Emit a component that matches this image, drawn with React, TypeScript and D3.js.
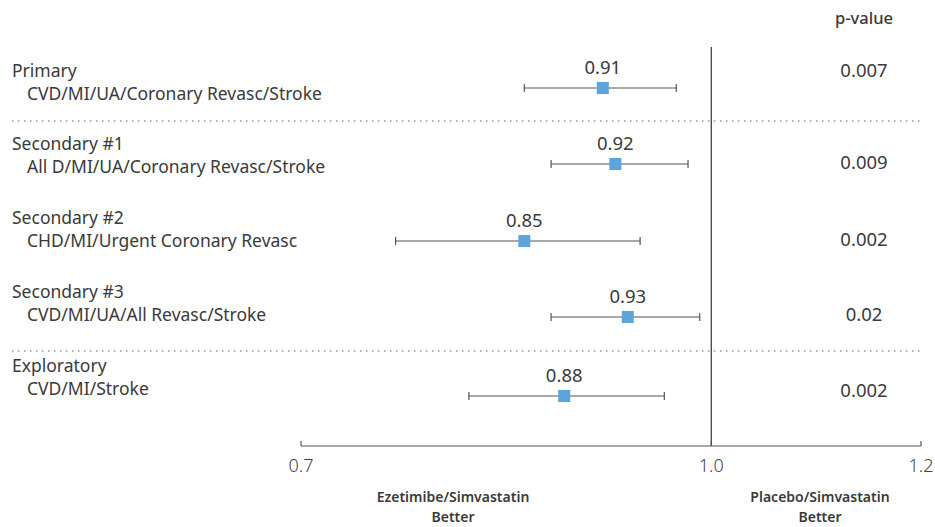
import React from "react";
import * as d3 from "d3";

const groups = ["Primary", "Secondary #1", "Secondary #2", "Secondary #3", "Exploratory"];
const endpoints = [
  "CVD/MI/UA/Coronary Revasc/Stroke",
  "All D/MI/UA/Coronary Revasc/Stroke",
  "CHD/MI/Urgent Coronary Revasc",
  "CVD/MI/UA/All Revasc/Stroke",
  "CVD/MI/Stroke",
];
const hr = [0.91, 0.92, 0.85, 0.93, 0.88];
const ciLow = [0.85, 0.87, 0.76, 0.87, 0.81];
const ciHigh = [0.97, 0.98, 0.94, 0.99, 0.96];
const pValues = ["0.007", "0.009", "0.002", "0.02", "0.002"];
const tickValues = [0.7, 1.0, 1.2];
const tickLabels = ["0.7", "1.0", "1.2"];

const W = 935;
const H = 527;
const FONT = "'Noto Sans', 'Open Sans', sans-serif";
const TXT = "#3a3a3a";

export default function App() {
  const x = d3.scaleLog().domain([0.7, 1.2]).range([301, 921]);
  const rowY = [88, 164, 241, 317, 396];
  const groupY = [72, 145, 219, 293, 367];
  const subY = [95, 168, 242, 316, 390];
  const pY = [72, 164, 241, 316, 392];
  const axisY = 446;
  const sq = 12;
  const cap = 4;

  return (
    <svg width={W} height={H} style={{ position: "absolute", left: 0, top: 0, background: "#fff" }} fontFamily={FONT}>
      <text x={864} y={20} textAnchor="middle" dominantBaseline="middle" fontSize={16.5} fontWeight={500} fill={TXT}>p-value</text>

      {[121, 351].map((yy) => (
        <line key={yy} x1={12} x2={921} y1={yy} y2={yy} stroke="#666" strokeWidth={1} strokeDasharray="1.5,4.5" />
      ))}

      <line x1={x(1)} x2={x(1)} y1={47} y2={axisY} stroke="#333" strokeWidth={1.2} />

      <line x1={x(0.7)} x2={x(1.2)} y1={axisY} y2={axisY} stroke="#555" strokeWidth={1.2} />
      {tickValues.map((t, i) => (
        <g key={t}>
          <line x1={x(t)} x2={x(t)} y1={axisY} y2={axisY - 5} stroke="#555" strokeWidth={1.2} />
          <text x={x(t)} y={467} textAnchor="middle" dominantBaseline="middle" fontSize={18} fill="#444" fontWeight={300}>{tickLabels[i]}</text>
        </g>
      ))}

      {groups.map((g, i) => (
        <g key={g}>
          <text x={12} y={groupY[i]} dominantBaseline="middle" fontSize={17.5} fill={TXT}>{g}</text>
          <text x={27} y={subY[i]} dominantBaseline="middle" fontSize={17.5} fill={TXT}>{endpoints[i]}</text>
          <line x1={x(ciLow[i])} x2={x(ciHigh[i])} y1={rowY[i]} y2={rowY[i]} stroke="#555" strokeWidth={1.2} />
          <line x1={x(ciLow[i])} x2={x(ciLow[i])} y1={rowY[i] - cap} y2={rowY[i] + cap} stroke="#555" strokeWidth={1.2} />
          <line x1={x(ciHigh[i])} x2={x(ciHigh[i])} y1={rowY[i] - cap} y2={rowY[i] + cap} stroke="#555" strokeWidth={1.2} />
          <rect x={x(hr[i]) - sq / 2} y={rowY[i] - sq / 2} width={sq} height={sq} fill="#5BA5DC" />
          <text x={x(hr[i])} y={rowY[i] - 19} dominantBaseline="middle" textAnchor="middle" fontSize={18.5} fill={TXT}>{hr[i].toFixed(2)}</text>
          <text x={864} y={pY[i]} dominantBaseline="middle" textAnchor="middle" fontSize={18.5} fill={TXT}>{pValues[i]}</text>
        </g>
      ))}

      <text x={453} y={498} textAnchor="middle" dominantBaseline="middle" fontSize={14} fontWeight={600} fill={TXT}>Ezetimibe/Simvastatin</text>
      <text x={453} y={518} textAnchor="middle" dominantBaseline="middle" fontSize={14} fontWeight={600} fill={TXT}>Better</text>
      <text x={820} y={498} textAnchor="middle" dominantBaseline="middle" fontSize={14} fontWeight={600} fill={TXT}>Placebo/Simvastatin</text>
      <text x={820} y={518} textAnchor="middle" dominantBaseline="middle" fontSize={14} fontWeight={600} fill={TXT}>Better</text>
    </svg>
  );
}
